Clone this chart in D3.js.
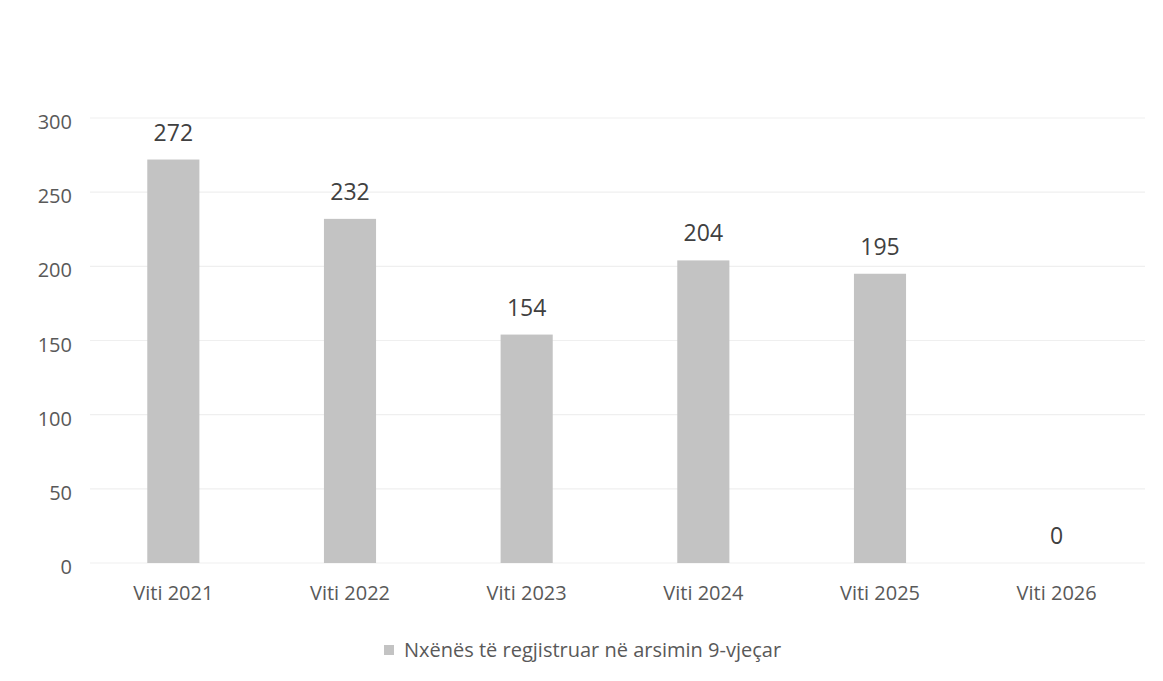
<!DOCTYPE html>
<html>
<head>
<meta charset="utf-8">
<script src="https://cdn.jsdelivr.net/npm/d3@7"></script>
<style>
  body { margin: 0; background: #fff; }
  svg text { font-family: "Open Sans", "Noto Sans", sans-serif; }
</style>
</head>
<body>
<div class="chartContainer"></div>
<script>
var categories = ["Viti 2021", "Viti 2022", "Viti 2023", "Viti 2024", "Viti 2025", "Viti 2026"]
var values = [272, 232, 154, 204, 195, 0]
var yTicks = [0, 50, 100, 150, 200, 250, 300]
var seriesName = "Nxënës të regjistruar në arsimin 9-vjeçar"

var width = 1163, height = 681
var margin = { top: 118, right: 18, bottom: 118, left: 85 }

var svg = d3.select(".chartContainer")
    .append("svg")
    .attr("width", width)
    .attr("height", height)

var x = d3.scaleBand()
    .domain(categories)
    .range([margin.left, width - margin.right])
    .paddingInner(0.705)
    .paddingOuter(0.3525)

var y = d3.scaleLinear()
    .domain([0, 300])
    .range([height - margin.bottom, margin.top])

// gridlines
svg.append("g")
    .classed("grid", true)
    .selectAll("line")
    .data(yTicks)
    .enter()
    .append("line")
    .attr("x1", margin.left + 5)
    .attr("x2", width - margin.right)
    .attr("y1", d => y(d))
    .attr("y2", d => y(d))
    .attr("stroke", "#efefef")
    .attr("stroke-width", 1.2)

// y axis labels
svg.append("g")
    .selectAll("text")
    .data(yTicks)
    .enter()
    .append("text")
    .attr("x", 72)
    .attr("y", d => y(d) + 4)
    .attr("dy", "0.35em")
    .attr("text-anchor", "end")
    .attr("font-size", 20)
    .attr("fill", "#595959")
    .text(d => d)

// bars
svg.append("g")
    .selectAll("rect")
    .data(values)
    .enter()
    .append("rect")
    .attr("x", (d, i) => x(categories[i]))
    .attr("y", d => y(d))
    .attr("width", x.bandwidth())
    .attr("height", d => y(0) - y(d))
    .attr("fill", "#c3c3c3")

// value labels
svg.append("g")
    .selectAll("text")
    .data(values)
    .enter()
    .append("text")
    .attr("x", (d, i) => x(categories[i]) + x.bandwidth() / 2)
    .attr("y", d => y(d) - 19)
    .attr("text-anchor", "middle")
    .attr("font-size", 23)
    .attr("fill", "#404040")
    .text(d => d)

// category labels
svg.append("g")
    .selectAll("text")
    .data(categories)
    .enter()
    .append("text")
    .attr("x", d => x(d) + x.bandwidth() / 2)
    .attr("y", y(0) + 37)
    .attr("text-anchor", "middle")
    .attr("font-size", 20)
    .attr("fill", "#595959")
    .text(d => d)

// legend
var legend = svg.append("g")
    .attr("transform", "translate(384, 650)")
legend.append("rect")
    .attr("x", 0)
    .attr("y", -5)
    .attr("width", 10)
    .attr("height", 10)
    .attr("fill", "#c3c3c3")
legend.append("text")
    .attr("x", 20)
    .attr("y", 0)
    .attr("dy", "0.35em")
    .attr("font-size", 20)
    .attr("fill", "#595959")
    .text(seriesName)
</script>
</body>
</html>
